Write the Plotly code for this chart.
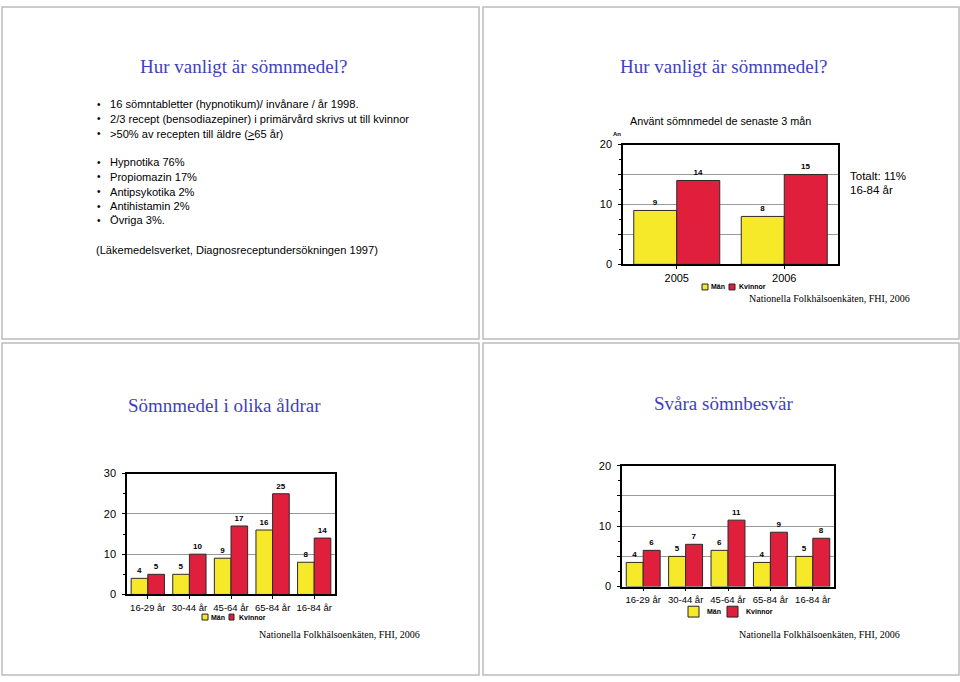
import plotly.graph_objects as go

W, H = 960, 682

# ---------------- data ----------------
slide_title_1 = "Hur vanligt är sömnmedel?"
bullets_a = ["16 sömntabletter (hypnotikum)/ invånare / år 1998.",
             "2/3 recept (bensodiazepiner) i primärvård skrivs ut till kvinnor",
             ">50% av recepten till äldre (<u>></u>65 år)"]
bullets_b = ["Hypnotika 76%", "Propiomazin 17%", "Antipsykotika 2%",
             "Antihistamin 2%", "Övriga 3%."]
ref_text = "(Läkemedelsverket, Diagnosreceptundersökningen 1997)"

series_names = ["Män", "Kvinnor"]

years = ["2005", "2006"]
year_men = [9, 8]
year_women = [14, 15]
chart_a_title = "Använt sömnmedel de senaste 3 mån"
total_text = ["Totalt: 11%", "16-84 år"]

age_groups = ["16-29 år", "30-44 år", "45-64 år", "65-84 år", "16-84 år"]
med_men = [4, 5, 9, 16, 8]
med_women = [5, 10, 17, 25, 14]
slide_title_3 = "Sömnmedel i olika åldrar"

sleep_men = [4, 5, 6, 4, 5]
sleep_women = [6, 7, 11, 9, 8]
slide_title_4 = "Svåra sömnbesvär"

source = "Nationella Folkhälsoenkäten, FHI, 2006"

# ---------------- style ----------------
YEL = "#f6e92a"
RED = "#e01f3d"
BLUE = "#3f3fbf"
SANS = "Liberation Sans, Arial, sans-serif"
SERIF = "Liberation Serif, Times New Roman, serif"


def px(x):
    return x / W


def py(y):
    return 1 - y / H


fig = go.Figure()

annotations = []
shapes = []


def text(x, y, s, size, font=SANS, color="black", xanchor="left", bold=False):
    if bold:
        s = "<b>" + s + "</b>"
    annotations.append(dict(x=px(x), y=py(y), xref="paper", yref="paper", text=s,
                            showarrow=False, xanchor=xanchor, yanchor="middle",
                            font=dict(family=font, size=size, color=color)))


# slide borders
for (x0, y0, x1, y1) in [(2, 1, 479, 339), (483, 1, 959, 339), (2, 343, 479, 681), (483, 343, 959, 681)]:
    shapes.append(dict(type="rect", xref="paper", yref="paper", x0=px(x0), x1=px(x1), y0=py(y0), y1=py(y1),
                       line=dict(color="#bcbcbc", width=1.5), fillcolor="rgba(0,0,0,0)"))

# ---- slide 1 (text) ----
text(243, 62, slide_title_1, 19, SERIF, BLUE, "center")
ys_a = [100, 115, 130]
ys_b = [159, 174, 189, 204, 218]
for s, y in zip(bullets_a, ys_a):
    text(95, y, "•", 10)
    text(108, y, s, 11.1)
for s, y in zip(bullets_b, ys_b):
    text(95, y, "•", 10)
    text(108, y, s, 11.1)
text(94, 248, ref_text, 11.1)

# ---- slide 2 ----
text(723, 62, slide_title_1, 19, SERIF, BLUE, "center")
text(628, 117, chart_a_title, 10.8)
text(611, 130, "An", 6, bold=True)
text(848, 173, total_text[0], 11.5)
text(848, 187, total_text[1], 11.5)
text(912, 298, source, 10, SERIF, "black", "right")

# ---- slide 3 ----
text(224, 407, slide_title_3, 19, SERIF, BLUE, "center")
text(422, 640, source, 10, SERIF, "black", "right")

# ---- slide 4 ----
text(723, 405, slide_title_4, 19, SERIF, BLUE, "center")
text(902, 640, source, 10, SERIF, "black", "right")


# legends as small boxes + labels
def legend(items):
    for (x0, y0, x1, y1, color, tx, name) in items:
        shapes.append(dict(type="rect", xref="paper", yref="paper", x0=px(x0), x1=px(x1), y0=py(y0), y1=py(y1),
                           line=dict(color="#222", width=1), fillcolor=color))
        text(tx, (y0 + y1) / 2, name, 7, bold=True)


legend([(702, 283, 708, 289, YEL, 709, series_names[0]), (729, 283, 735, 289, RED, 737, series_names[1])])
legend([(202, 619, 208, 625, YEL, 209, series_names[0]), (229, 619, 234, 625, RED, 237, series_names[1])])
legend([(688, 611, 699, 622, YEL, 705, series_names[0]), (727, 611, 738, 622, RED, 744, series_names[1])])

# ---------------- bar traces ----------------
def bars(x, men, women, xa, ya):
    for name, vals, col in [(series_names[0], men, YEL), (series_names[1], women, RED)]:
        fig.add_trace(go.Bar(x=x, y=vals, name=name, xaxis=xa, yaxis=ya,
                             marker=dict(color=col, line=dict(color="#2a2a2a", width=1)),
                             text=vals, textposition="outside", cliponaxis=False,
                             textfont=dict(family=SANS, size=8, color="black"),
                             texttemplate="<b>%{text}</b>", showlegend=False))


bars(years, year_men, year_women, "x", "y")
bars(age_groups, med_men, med_women, "x2", "y2")
bars(age_groups, sleep_men, sleep_women, "x3", "y3")

xcommon = dict(type="category", showline=True, linecolor="black", linewidth=1.5, mirror=True,
               ticks="outside", ticklen=3, tickcolor="black", showgrid=False, zeroline=False,
               fixedrange=True)
ycommon = dict(showline=True, linecolor="black", linewidth=1.5, mirror=True,
               ticks="outside", ticklen=3, tickcolor="black", showgrid=True, gridcolor="#9a9a9a",
               gridwidth=1, zeroline=False, fixedrange=True, ticklabelstandoff=4)

fig.update_layout(
    width=W, height=H, margin=dict(l=0, r=0, t=0, b=0),
    paper_bgcolor="white", plot_bgcolor="white",
    barmode="group", showlegend=False,
    annotations=annotations, shapes=shapes,
    xaxis=dict(xcommon, domain=[px(623), px(838)], anchor="y",
               tickfont=dict(family=SANS, size=11, color="black")),
    yaxis=dict(ycommon, domain=[py(263), py(141)], anchor="x", range=[0, 20],
               tickvals=[0, 5, 10, 15, 20], ticktext=["0", "", "10", "", "20"],
               minor=dict(dtick=2.5, ticks="outside", ticklen=2, tickcolor="black", showgrid=False),
               tickfont=dict(family=SANS, size=11, color="black")),
    xaxis2=dict(xcommon, domain=[px(127), px(335)], anchor="y2",
                tickfont=dict(family=SANS, size=9.5, color="black")),
    yaxis2=dict(ycommon, domain=[py(599), py(476)], anchor="x2", range=[0, 30],
                tickvals=[0, 10, 20, 30],
                minor=dict(dtick=5, ticks="outside", ticklen=2, tickcolor="black", showgrid=False),
                tickfont=dict(family=SANS, size=11, color="black")),
    xaxis3=dict(xcommon, domain=[px(622), px(834)], anchor="y3",
                tickfont=dict(family=SANS, size=9.5, color="black")),
    yaxis3=dict(ycommon, domain=[py(591), py(468)], anchor="x3", range=[0, 20],
                tickvals=[0, 5, 10, 15, 20], ticktext=["0", "", "10", "", "20"],
                minor=dict(dtick=2.5, ticks="outside", ticklen=2, tickcolor="black", showgrid=False),
                tickfont=dict(family=SANS, size=11, color="black")),
)
fig.update_layout(bargap=0.2, bargroupgap=0)

fig.write_html("out.html", config={"displayModeBar": False},
               post_script="document.body.style.margin='0';document.body.style.padding='0';"
                           "document.documentElement.style.margin='0';")
